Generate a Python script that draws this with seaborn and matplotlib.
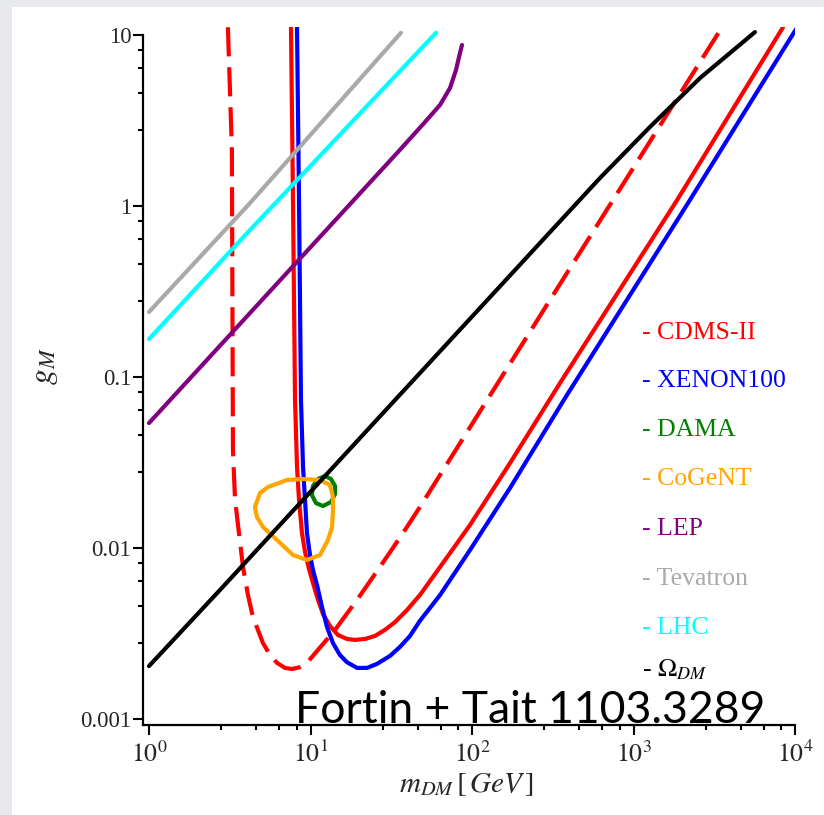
import numpy as np
import pandas as pd
import matplotlib
matplotlib.use("Agg")
import matplotlib.pyplot as plt
import seaborn as sns
from matplotlib.patches import Rectangle
from matplotlib.ticker import FixedLocator, FixedFormatter, NullFormatter

# ---------------- data ----------------
cdms_x = [7.57, 7.79, 8.02, 8.25, 8.49, 8.86, 9.25, 9.79, 10.36, 11.13, 11.95, 13.2, 14.8, 16.8, 18.9,
          21.8, 25.1, 28.9, 33.4, 39.6, 47.6, 63.4, 97.2, 172, 351, 1858, 8430]
cdms_y = [11.1, 1.08, 0.0734, 0.0298, 0.0191, 0.0122, 0.00948, 0.00754, 0.00624, 0.00497, 0.00411, 0.00350,
          0.00310, 0.00294, 0.00290, 0.00294, 0.00306, 0.00332, 0.00369, 0.00434, 0.00531, 0.00774, 0.01363,
          0.0314, 0.0923, 1.08, 11.1]

cdms_dash_x = [3.08, 3.26, 3.31, 3.41, 3.82, 4.10, 4.40, 5.08, 5.61, 6.20, 6.95, 7.68, 8.61, 9.51, 14.19,
               19.4, 26.9, 37.4, 47.6, 351, 3532]
cdms_dash_y = [11.1, 2.13, 0.0374, 0.0191, 0.00774, 0.00531, 0.00395, 0.00278, 0.00237, 0.00213, 0.00199,
               0.00196, 0.00201, 0.00213, 0.00332, 0.00497, 0.00774, 0.01224, 0.01737, 0.350, 11.1]

xenon_x = [8.25, 8.49, 8.73, 8.99, 9.25, 9.51, 9.93, 10.36, 10.97, 11.78, 12.65, 13.78, 15.2, 16.8, 19.4,
           22.4, 25.8, 31.1, 35.8, 41.3, 47.6, 63.4, 97.2, 172, 377, 2175, 10140]
xenon_y = [11.1, 1.08, 0.0734, 0.0298, 0.0191, 0.0122, 0.0091, 0.00743, 0.00608, 0.00452, 0.00345, 0.00278,
           0.00237, 0.00215, 0.00199, 0.00199, 0.00210, 0.00234, 0.00264, 0.00306, 0.00375, 0.00531, 0.00973,
           0.02244, 0.0754, 1.04, 10.8]

dama_x = [12.29, 13.4, 14.19, 14.19, 13.4, 11.95, 10.8, 10.2, 10.36, 11.13, 12.29]
dama_y = [0.02636, 0.02532, 0.02304, 0.0207, 0.01858, 0.0176, 0.01833, 0.02042, 0.02304, 0.02532, 0.02636]

cogent_x = [4.53, 4.87, 5.46, 7.15, 8.99, 11.45, 13.2, 13.78, 13.78, 13.6, 12.83, 11.45, 9.51, 7.79, 6.20,
            5.08, 4.66, 4.53]
cogent_y = [0.01737, 0.02097, 0.02274, 0.02497, 0.02532, 0.02497, 0.02335, 0.01987, 0.01668, 0.01327,
            0.01114, 0.0091, 0.00851, 0.0091, 0.01114, 0.01327, 0.01518, 0.01737]

lep_x = [1.0, 4.22, 35.8, 51.2, 63.4, 73.1, 79.6, 83.1, 86.7]
lep_y = [0.0538, 0.2366, 2.13, 3.10, 3.90, 4.90, 6.24, 7.44, 8.74]

tevatron_x = [1.0, 4.22, 36.3]
tevatron_y = [0.240, 1.04, 10.3]

lhc_x = [1.0, 4.22, 59.9]
lhc_y = [0.1668, 0.724, 10.3]

omega_x = [1.0, 2.75, 33.4, 620, 1265, 2580, 3960, 5650]
omega_y = [0.00204, 0.00568, 0.0734, 1.458, 2.90, 5.60, 7.85, 10.4]

legend_labels = ["CDMS-II", "XENON100", "DAMA", "CoGeNT", "LEP", "Tevatron", "LHC", r"$\Omega_{DM}$"]
legend_colors = ["#ff0000", "#0000ff", "#008000", "#ffa500", "#800080", "#a9a9a9", "#00ffff", "#000000"]

x_major = [1, 10, 100, 1000, 10000]
x_tick_labels = [r"$10^{0}$", r"$10^{1}$", r"$10^{2}$", r"$10^{3}$", r"$10^{4}$"]
y_major = [0.001, 0.01, 0.1, 1, 10]
y_tick_labels = ["0.001", "0.01", "0.1", "1", "10"]
minor_steps = [2.8, 4.6, 6.4, 8.2]

# ---------------- figure ----------------
sns.set_style("white")
plt.rcParams["font.family"] = ["Liberation Serif", "DejaVu Serif"]
plt.rcParams["mathtext.fontset"] = "stix"

W, H = 824, 815
fig = plt.figure(figsize=(W / 100, H / 100), dpi=100)
fig.patch.set_facecolor("#e8e9ec")
fig.add_artist(Rectangle((12 / W, 0), 1, (H - 7) / H, transform=fig.transFigure,
                         facecolor="white", edgecolor="none", zorder=0))

ax = fig.add_axes([143 / W, 90 / H, 652 / W, 698 / H])
ax.set_facecolor("none")
ax.set_xscale("log")
ax.set_yscale("log")

series = [
    (cdms_x, cdms_y, legend_colors[0], False),
    (cdms_dash_x, cdms_dash_y, legend_colors[0], True),
    (xenon_x, xenon_y, legend_colors[1], False),
    (dama_x, dama_y, legend_colors[2], False),
    (cogent_x, cogent_y, legend_colors[3], False),
    (lep_x, lep_y, legend_colors[4], False),
    (tevatron_x, tevatron_y, legend_colors[5], False),
    (lhc_x, lhc_y, legend_colors[6], False),
    (omega_x, omega_y, legend_colors[7], False),
]
for xs, ys, col, dashed in series:
    df = pd.DataFrame({"x": xs, "y": ys})
    sns.lineplot(data=df, x="x", y="y", sort=False, estimator=None, color=col,
                 linewidth=3, ax=ax)
    line = ax.lines[-1]
    line.set_solid_joinstyle("round")
    if dashed:
        line.set_dashes([7, 2.6])
        line.set_dash_capstyle("butt")

xlo = 10 ** (-6 / 161.5)
ylo = 10 ** (-3 - 6 / 171.0)
ax.set_xlim(xlo, 1e4)
ax.set_ylim(ylo, 10 ** (1 + 8 / 171.0))

for s in ["top", "right"]:
    ax.spines[s].set_visible(False)
for s in ["left", "bottom"]:
    ax.spines[s].set_linewidth(1.6)
    ax.spines[s].set_color("black")
ax.spines["left"].set_bounds(ylo, 10)
ax.spines["bottom"].set_bounds(xlo, 1e4)

ax.xaxis.set_major_locator(FixedLocator(x_major))
ax.xaxis.set_major_formatter(FixedFormatter(x_tick_labels))
ax.yaxis.set_major_locator(FixedLocator(y_major))
ax.yaxis.set_major_formatter(FixedFormatter(y_tick_labels))
ax.xaxis.set_minor_locator(FixedLocator([d * m for d in x_major[:-1] for m in minor_steps]))
ax.yaxis.set_minor_locator(FixedLocator([d * m for d in y_major[:-1] for m in minor_steps]))
ax.xaxis.set_minor_formatter(NullFormatter())
ax.yaxis.set_minor_formatter(NullFormatter())

ax.tick_params(which="major", direction="out", length=7.5, width=1.5, color="black")
ax.tick_params(which="minor", direction="out", length=3.5, width=1.5, color="black")
ax.tick_params(axis="x", which="major", labelsize=18.5, pad=4)
ax.tick_params(axis="y", which="major", labelsize=16.5, pad=1)
ax.tick_params(left=True, bottom=True, which="both")
ax.grid(False)

ax.set_xlabel(r"$m_{DM}\,[\,GeV\,]$", fontsize=21)
ax.xaxis.set_label_coords(0.497, -0.066)
ax.set_ylabel(r"$g_M$", fontsize=23)
ax.yaxis.set_label_coords(-0.128, 0.514)

legend_baselines = [339, 387, 436, 485, 535, 585, 634, 676]
for lab, col, yb in zip(legend_labels, legend_colors, legend_baselines):
    fig.text(642 / W, (H - yb) / H, "- " + lab, color=col, fontsize=18.5,
             va="baseline", ha="left")

fig.text(295 / W, (H - 723) / H, "Fortin + Tait 1103.3289", family=["Lato", "DejaVu Sans"],
         fontsize=32, va="baseline", ha="left", color="black")

fig.savefig("out.png", dpi=100, facecolor=fig.get_facecolor())
